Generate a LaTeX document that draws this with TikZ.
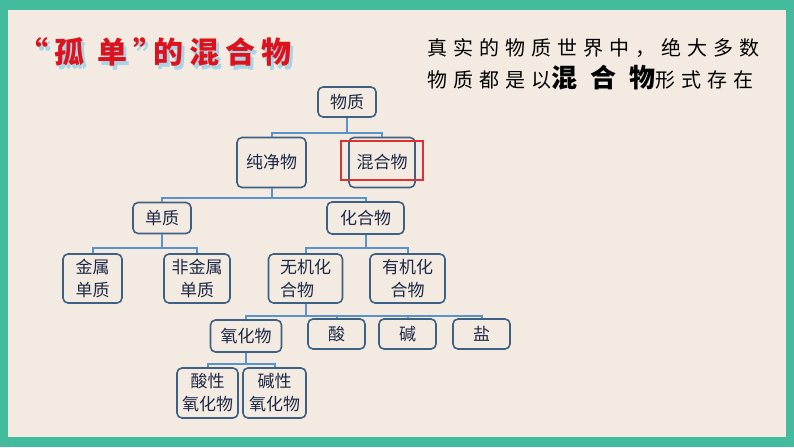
\documentclass[tikz,border=0pt]{standalone}
\usepackage{fontspec}
\newfontfamily\cjk{Noto Sans CJK SC}
\definecolor{frameteal}{RGB}{69,187,158}
\definecolor{paper}{RGB}{243,235,225}
\definecolor{boxline}{RGB}{62,96,130}
\definecolor{busline}{RGB}{91,146,200}
\definecolor{nodetext}{RGB}{30,40,70}
\definecolor{titlered}{RGB}{222,18,28}
\definecolor{titleshade}{RGB}{168,212,232}
\definecolor{markred}{RGB}{220,50,50}

\tikzset{every picture/.style={line width=0.75pt}}
\tikzset{
  kbox/.style={draw=boxline, line width=1.6, rounded corners=5, inner sep=0pt, text=nodetext,
    font=\cjk\fontsize{17}{23}\selectfont, align=center},
  bus/.style={draw=busline, line width=2},
}
\newcommand{\titletext}{\cjk\bfseries\fontsize{30}{30}\selectfont\addfontfeature{LetterSpace=20}“孤\hspace{13pt}单”\hspace{-10pt}的混合物}

\begin{document}
\begin{tikzpicture}[x=1pt,y=1pt,yscale=-1,xscale=1]
\useasboundingbox (0,0) rectangle (794,447);

%Frame
\fill [frameteal] (0,0) rectangle (794,447);
\fill [paper] (8,10) rectangle (786,437);

% Title Text Node (shade, then red)
\draw (21,56) node [anchor=west][inner sep=0pt] [text=titleshade] {\titletext};
\draw (18,52) node (title) [anchor=west][inner sep=0pt] [text=titlered] {\titletext};

% Text Node
\draw (427,48) node (lineone) [anchor=west][inner sep=0pt] {\cjk\fontsize{20}{20}\selectfont\addfontfeature{LetterSpace=30}真实的物质世界中，绝大多数};
% Text Node
\draw (427,78) node (linetwo) [anchor=west][inner sep=0pt] {\cjk\fontsize{20}{20}\selectfont\addfontfeature{LetterSpace=30}物质都是以{\bfseries\fontsize{26}{26}\selectfont\addfontfeature{LetterSpace=0}混\hspace{0.5em}合\hspace{0.5em}物}形式存在};

%Rounded Rect nodes
\node (wz)    [kbox, minimum width=58, minimum height=30] at (347,102) {物质};
\node (cjw)   [kbox, minimum width=69, minimum height=50] at (271.5,162.5) {纯净物};
\node (hhw)   [kbox, minimum width=66, minimum height=50] at (382,162.5) {混合物};
\node (dz)    [kbox, minimum width=58, minimum height=31] at (162,218) {单质};
\node (hhwu)  [kbox, minimum width=77, minimum height=32] at (365.5,218) {化合物};
\node (jsdz)  [kbox, minimum width=59, minimum height=49] at (92.5,278.5) {金属\\单质};
\node (fjsdz) [kbox, minimum width=66, minimum height=49] at (197,278.5) {非金属\\单质};
\node (wjhhw) [kbox, minimum width=74, minimum height=49, align=left] at (305.5,278.5) {无机化\\合物};
\node (yjhhw) [kbox, minimum width=75, minimum height=49] at (407.5,278.5) {有机化\\合物};
\node (yhw)   [kbox, minimum width=71, minimum height=32] at (246,336) {氧化物};
\node (suan)  [kbox, minimum width=57, minimum height=30] at (336.5,334) {酸};
\node (jian)  [kbox, minimum width=57, minimum height=30] at (407.5,334) {碱};
\node (yan)   [kbox, minimum width=57, minimum height=30] at (481.5,334) {盐};
\node (sxyhw) [kbox, minimum width=61, minimum height=50] at (207.5,393) {酸性\\氧化物};
\node (jxyhw) [kbox, minimum width=63, minimum height=50] at (274.5,393) {碱性\\氧化物};

%Red mark
\draw [markred, line width=1.2] (341,141) rectangle (423,180);

%Connectors
\draw [bus] (wz.south) -- ++(0,15) -| (cjw.north);
\draw [bus] (wz.south) -- ++(0,15) -| (hhw.north);
\draw [bus] (cjw.south) -- ++(0,10) -| (dz.north);
\draw [bus] (cjw.south) -- ++(0,10) -| (hhwu.north);
\draw [bus] (dz.south) -- ++(0,14) -| (jsdz.north);
\draw [bus] (dz.south) -- ++(0,14) -| (fjsdz.north);
\draw [bus] (hhwu.south) -- ++(0,13) -| (wjhhw.north);
\draw [bus] (hhwu.south) -- ++(0,13) -| (yjhhw.north);
\foreach \kid in {yhw,suan,jian,yan}
  \draw [bus] (wjhhw.south) -- ++(0,12) -| (\kid.north);
\draw [bus] (yhw.south) -- ++(0,11) -| (sxyhw.north);
\draw [bus] (yhw.south) -- ++(0,11) -| (jxyhw.north);

\end{tikzpicture}
\end{document}
